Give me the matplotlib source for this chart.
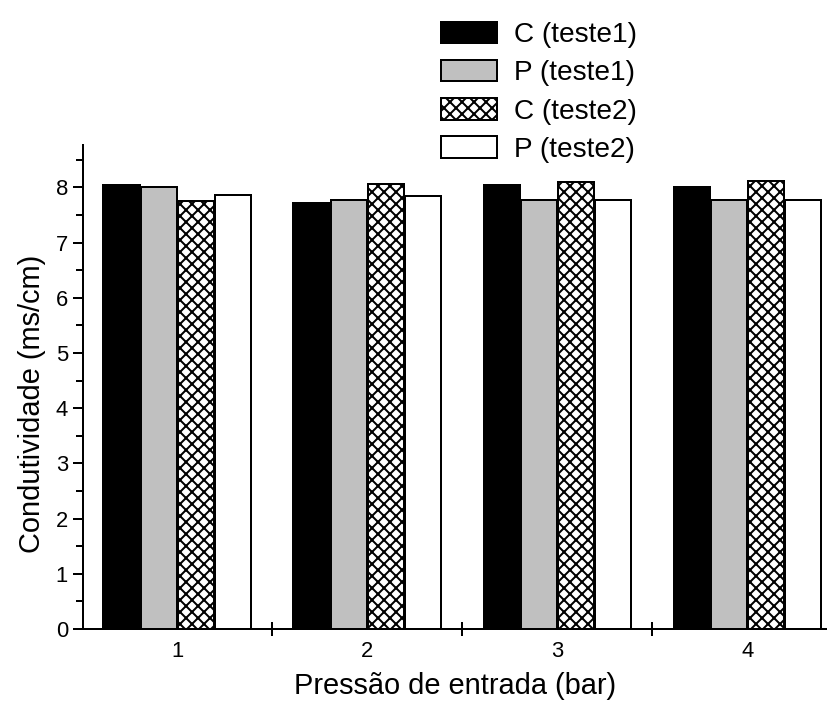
import matplotlib
matplotlib.use("Agg")
import matplotlib.pyplot as plt
import numpy as np

plt.rcParams['font.family'] = ['Liberation Sans', 'DejaVu Sans']
plt.rcParams['hatch.linewidth'] = 2.0

pressao = [1, 2, 3, 4]
series = ['C (teste1)', 'P (teste1)', 'C (teste2)', 'P (teste2)']
c_teste1 = [8.04, 7.71, 8.04, 8.00]
p_teste1 = [8.00, 7.78, 7.78, 7.78]
c_teste2 = [7.75, 8.07, 8.10, 8.11]
p_teste2 = [7.86, 7.85, 7.78, 7.78]

valores = [c_teste1, p_teste1, c_teste2, p_teste2]
cores = ['black', '#c0c0c0', 'white', 'white']
hatches = [None, None, 'xx', None]

fig = plt.figure(figsize=(827/72, 709/72), dpi=72)
ax = fig.add_axes([0.1004, 0.1128, 0.8996, 0.6827])

x = np.array(pressao, dtype=float)
w = 0.19
for i, (v, c, h, lab) in enumerate(zip(valores, cores, hatches, series)):
    ax.bar(x + (i - 1.5) * 0.195, v, width=w, color=c, edgecolor='black',
           linewidth=2, hatch=h, label=lab)

ax.set_xlim(0.505, 4.42)
ax.set_ylim(0, 8.77)

for s in ['top', 'right']:
    ax.spines[s].set_visible(False)
for s in ['left', 'bottom']:
    ax.spines[s].set_linewidth(2)

ax.set_xticks(pressao)
ax.set_xticks([1.5, 2.5, 3.5], minor=True)
ax.tick_params(axis='x', which='major', length=0, pad=12, labelsize=22)
ax.tick_params(axis='x', which='minor', length=14, width=2, direction='inout')

ax.set_yticks(range(0, 9))
ax.set_yticks(np.arange(0.5, 8.6, 1.0), minor=True)
ax.tick_params(axis='y', which='major', length=10, width=2, pad=5, labelsize=22)
ax.tick_params(axis='y', which='minor', length=7, width=2)

ax.set_xlabel('Pressão de entrada (bar)', fontsize=29, labelpad=10)
ax.set_ylabel('Condutividade (ms/cm)', fontsize=29)
ax.yaxis.set_label_coords(-0.05, 0.465)

leg = ax.legend(loc='upper left', bbox_to_anchor=(0.513, 0.993), bbox_transform=fig.transFigure,
                frameon=False, fontsize=28, handlelength=2.0, handleheight=0.8,
                labelspacing=0.42, handletextpad=0.6, borderaxespad=0.2)

fig.savefig('out.png', dpi=72)
